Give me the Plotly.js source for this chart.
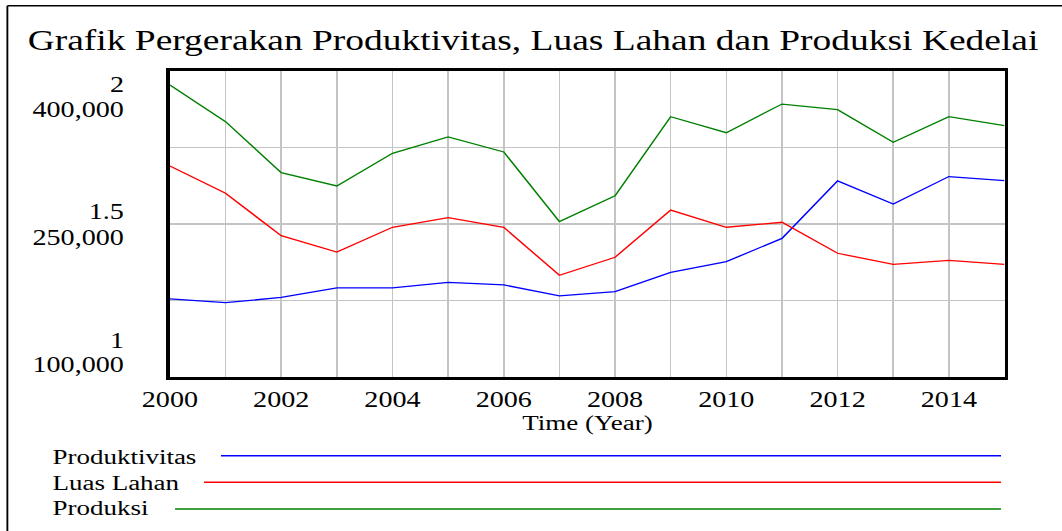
<!DOCTYPE html>
<html>
<head>
<meta charset="utf-8">
<script src="https://cdn.plot.ly/plotly-3.0.1.min.js"></script>
<style>
  html, body { margin: 0; padding: 0; background: #fff; overflow: hidden; }
  #chart { width: 850px; height: 531px; transform: scaleX(1.24941); transform-origin: 0 0; }
</style>
</head>
<body>
<div id="chart"></div>
<script>
// ---- data ----
const years = [2000, 2001, 2002, 2003, 2004, 2005, 2006, 2007, 2008, 2009, 2010, 2011, 2012, 2013, 2014, 2015];
const produktivitas = [1.255, 1.243, 1.260, 1.291, 1.291, 1.309, 1.301, 1.265, 1.279, 1.342, 1.377, 1.453, 1.641, 1.565, 1.655, 1.642];
const luasLahan = [306900, 280100, 238500, 222500, 246800, 256200, 246800, 199700, 217400, 263700, 246800, 251700, 221300, 210500, 214400, 210500];
const produksi = [386300, 350300, 300300, 287300, 319300, 335300, 320600, 252300, 277700, 355200, 339500, 367600, 362100, 330100, 355200, 346400];
const seriesNames = ["Produktivitas", "Luas Lahan", "Produksi"];
const seriesColors = ["#0000ff", "#ff0000", "#008000"];
const xTickVals = [2000, 2002, 2004, 2006, 2008, 2010, 2012, 2014];
const scale1Labels = [2, 1.5, 1];
const scale2Labels = [400000, 250000, 100000];
const titleText = "Grafik Pergerakan Produktivitas, Luas Lahan dan Produksi Kedelai";
const xTitle = "Time (Year)";

// ---- layout helpers ----
const FONT = "'Liberation Serif', 'Times New Roman', serif";
const L = 136, R = 46, T = 71, B = 154, W = 850, H = 531;
const PW = W - L - R, PH = H - T - B;
const px = x => (x - L) / PW;
const py = y => (T + PH - y) / PH;
const grid = "#c4c4c4";

const traces = [
  {x: years, y: produktivitas, name: seriesNames[0], yaxis: "y", mode: "lines", line: {color: seriesColors[0], width: 1.3}},
  {x: years, y: luasLahan, name: seriesNames[1], yaxis: "y2", mode: "lines", line: {color: seriesColors[1], width: 1.3}},
  {x: years, y: produksi, name: seriesNames[2], yaxis: "y2", mode: "lines", line: {color: seriesColors[2], width: 1.3}}
];

const fmt = v => v.toLocaleString("en-US");
const annotations = [];
const yShifts1 = [-13, 13, 37];
const yShifts2 = [-38, -13, 13];
scale1Labels.forEach((v, i) => annotations.push({
  xref: "paper", x: 0, xshift: -35.5, xanchor: "right", yref: "y", y: v, yshift: yShifts1[i], yanchor: "middle",
  text: String(v), showarrow: false, font: {family: FONT, size: 22.5, color: "#000"}
}));
scale2Labels.forEach((v, i) => annotations.push({
  xref: "paper", x: 0, xshift: -35.5, xanchor: "right", yref: "y2", y: v, yshift: yShifts2[i], yanchor: "middle",
  text: fmt(v), showarrow: false, font: {family: FONT, size: 22.5, color: "#000"}
}));
annotations.push({
  xref: "paper", x: 0.5, xanchor: "center", yref: "paper", y: py(423), yanchor: "middle",
  text: xTitle, showarrow: false, font: {family: FONT, size: 21.6, color: "#000"}
});
annotations.push({
  xref: "paper", x: px(19.6), xanchor: "left", yref: "paper", y: py(39.5), yanchor: "middle",
  text: titleText, showarrow: false, font: {family: FONT, size: 30, color: "#000"}
});

// legend (custom, Vensim style)
const legY = [457, 482.5, 508];
const legLineY = [455.7, 482.3, 509];
const legLineStart = [176.9, 163.3, 140.1];
const shapes = [];
seriesNames.forEach((n, i) => {
  annotations.push({
    xref: "paper", x: px(40.4), xanchor: "left", yref: "paper", y: py(legY[i]), yanchor: "middle",
    text: n, showarrow: false, font: {family: FONT, size: 21.6, color: "#000"}
  });
  shapes.push({
    type: "line", xref: "paper", yref: "paper",
    x0: px(legLineStart[i]), x1: px(801.2), y0: py(legLineY[i]), y1: py(legLineY[i]),
    line: {color: seriesColors[i], width: 1.6}
  });
});
// outer frame (top and left)
shapes.push({type: "line", xref: "paper", yref: "paper", x0: px(5.9), x1: px(W + 5), y0: py(5.8), y1: py(5.8), line: {color: "#000", width: 1.5}});
shapes.push({type: "line", xref: "paper", yref: "paper", x0: px(5.9), x1: px(5.9), y0: py(5.8), y1: py(H + 5), line: {color: "#000", width: 1.5}});

const layout = {
  width: W, height: H,
  margin: {l: L, r: R, t: T, b: B, pad: 0},
  paper_bgcolor: "#fff", plot_bgcolor: "#fff",
  showlegend: false,
  font: {family: FONT, color: "#000"},
  xaxis: {
    range: [2000, 2015], tickmode: "array", tickvals: xTickVals, ticktext: xTickVals.map(String),
    showgrid: true, gridcolor: grid, gridwidth: 1.2, zeroline: false,
    minor: {dtick: 1, tick0: 2000, showgrid: true, gridcolor: grid, gridwidth: 1.2, ticks: ""},
    showline: true, mirror: true, linecolor: "#000", linewidth: 2.8,
    ticks: "", tickfont: {family: FONT, size: 22.5, color: "#000"}
  },
  yaxis: {
    range: [1, 2], dtick: 0.25, tick0: 1, showticklabels: false, showgrid: true, gridcolor: grid, gridwidth: 1.2,
    zeroline: false, showline: true, mirror: true, linecolor: "#000", linewidth: 2.8, ticks: ""
  },
  yaxis2: {
    range: [100000, 400000], overlaying: "y", side: "left", showgrid: false, showticklabels: false,
    zeroline: false, showline: false, ticks: ""
  },
  annotations: annotations,
  shapes: shapes
};

Plotly.newPlot("chart", traces, layout, {displayModeBar: false, staticPlot: true});
</script>
</body>
</html>
